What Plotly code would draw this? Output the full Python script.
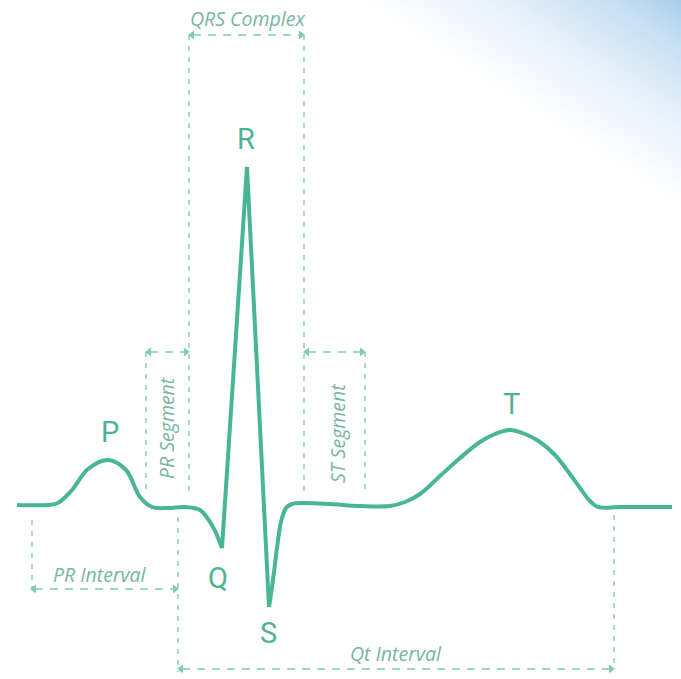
import numpy as np
import plotly.graph_objects as go

# ---------------- data ----------------
# ECG waveform (time units, amplitude units; baseline = 0)
pre_q_t = [17, 48, 58, 72, 88, 108, 126, 140, 152, 168, 185, 200, 213, 222]
pre_q_v = [0, 0, 2, 15, 36, 45, 35, 8, -2, -3, -2, -5, -22, -43]
qrs_t = [222, 247, 269]
qrs_v = [-43, 338, -102]
post_s_t = [269, 273, 277, 281, 286, 292, 303, 330, 360, 390, 405, 420, 440, 460, 480, 495,
            510, 525, 540, 555, 567, 580, 590, 598, 620, 672]
post_s_v = [-102, -75, -43, -17, -3, 1, 2, 1, -1, -1, 3, 11, 29, 47, 63, 71,
            75, 71, 63, 50, 35, 17, 4, -2, -2, -2]

wave_labels = ["P", "R", "Q", "S", "T"]
wave_label_t = [110, 246, 218, 268, 511]
wave_label_v = [73, 366, -73, -128, 101]

# measured segments / intervals
seg_names = ["QRS Complex", "PR Segment", "ST Segment", "PR Interval", "Qt Interval"]
seg_start = [189, 146, 304, 31, 178]
seg_end = [304, 189, 365, 178, 614]
seg_level = [470, 153, 153, -84, -164]

# vertical guide lines
guide_t = [189, 304, 146, 365, 32, 178, 614]
guide_top = [470, 470, 153, 153, -15, -12, -10]
guide_bot = [12, 10, 12, 10, -84, -167, -164]

TEAL = "rgb(72,182,150)"
DASH = "rgb(128,203,182)"
TXT = "rgb(120,181,165)"

fig = go.Figure()

# soft blue corner background
gx = np.linspace(350, 690, 60)
gy = np.linspace(515, 215, 60)
GX, GY = np.meshgrid(gx, gy)
pix_y = 505 - GY
z = np.clip(((GX - 360) * 200 - pix_y * 311) / 370 / 175, 0, 1)
fig.add_trace(go.Heatmap(
    x=gx, y=gy, z=z, zsmooth="best", showscale=False, hoverinfo="skip",
    zmin=0, zmax=1,
    colorscale=[[0, "rgb(255,255,255)"], [0.4, "rgb(232,241,250)"],
                [0.75, "rgb(200,224,243)"], [1, "rgb(168,206,236)"]],
))

# guide lines
for t, a, b in zip(guide_t, guide_top, guide_bot):
    fig.add_trace(go.Scatter(x=[t, t], y=[a, b], mode="lines",
                             line=dict(color=DASH, width=1.4, dash="5px,6px"),
                             hoverinfo="skip", showlegend=False))

# arrows
for x0, x1, lv in zip(seg_start, seg_end, seg_level):
    fig.add_trace(go.Scatter(x=[x0 + 4, x1 - 4], y=[lv, lv], mode="lines",
                             line=dict(color=DASH, width=1.6, dash="8px,7px"),
                             hoverinfo="skip", showlegend=False))
    fig.add_trace(go.Scatter(x=[x0 + 3, x1 - 3], y=[lv, lv], mode="markers",
                             marker=dict(symbol=["triangle-left", "triangle-right"],
                                         size=8, color=DASH),
                             hoverinfo="skip", showlegend=False))

# ECG line
for t, v, shape in [(pre_q_t, pre_q_v, "spline"), (qrs_t, qrs_v, "linear"),
                    (post_s_t, post_s_v, "spline")]:
    fig.add_trace(go.Scatter(x=t, y=v, mode="lines",
                             line=dict(color=TEAL, width=4, shape=shape, smoothing=1.0),
                             hoverinfo="skip", showlegend=False))

annotations = []
for lab, t, v in zip(wave_labels, wave_label_t, wave_label_v):
    annotations.append(dict(x=t, y=v, text=lab, showarrow=False,
                            font=dict(family="Roboto", size=29, color="rgb(78,178,148)")))

seg_text_pos = [(247, 487, 0), (166, 77, -90), (337, 72, -90), (100, -69, 0), (396, -148, 0)]
for name, (t, v, ang) in zip(seg_names, seg_text_pos):
    annotations.append(dict(x=t, y=v, text="<i>" + name + "</i>", showarrow=False,
                            textangle=ang,
                            font=dict(family="Open Sans", size=19.5, color=TXT)))

fig.update_layout(
    width=681, height=679,
    margin=dict(l=0, r=0, t=0, b=0),
    paper_bgcolor="white", plot_bgcolor="white",
    xaxis=dict(range=[0, 681], visible=False, fixedrange=True),
    yaxis=dict(range=[-174, 505], visible=False, fixedrange=True),
    annotations=annotations,
    showlegend=False,
)

fig.write_html("out.html", config={"displayModeBar": False},
               post_script="document.body.style.margin='0px';document.body.style.overflow='hidden';")
